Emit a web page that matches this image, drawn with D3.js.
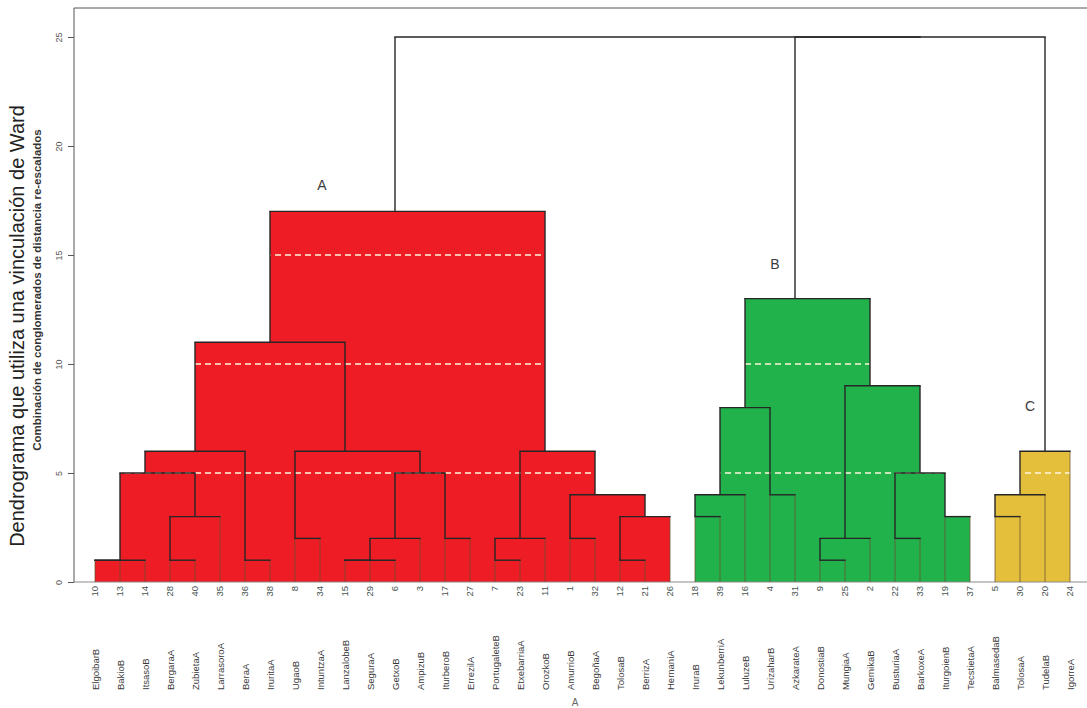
<!DOCTYPE html>
<html>
<head>
<meta charset="utf-8">
<script src="https://cdn.jsdelivr.net/npm/d3@7"></script>
<style>
  html, body { margin: 0; padding: 0; background: #fff; }
  svg { display: block; font-family: "Liberation Sans", Arial, sans-serif; }
</style>
</head>
<body>
<svg id="chart" width="1087" height="708"></svg>
<script>
// Case numbers in dendrogram leaf order (left to right)
const caseNumbers = [10, 13, 14, 28, 40, 35, 36, 38, 8, 34, 15, 29, 6, 3, 17, 27, 7, 23, 11, 1, 32, 12, 21, 26,
                     18, 39, 16, 4, 31, 9, 25, 2, 22, 33, 19, 37,
                     5, 30, 20, 24];

// Case labels, same order
const caseNames = ["ElgoibarB", "BakioB", "ItsasoB", "BergaraA", "ZubietaA", "LarrasoroA", "BeraA", "IruritaA",
                   "UgaoB", "IntuntzaA", "LanzalobeB", "SeguraA", "GetxoB", "AmpizuB", "IturberoB", "ErrezilA",
                   "PortugaleteB", "EtxebarriaA", "OrozkoB", "AmurrioB", "BegoñaA", "TolosaB", "BerrizA", "HernaniA",
                   "IruraB", "LekunberriA", "LuluzeB", "UrizaharB", "AzkarateA", "DonostiaB", "MungiaA", "GernikaB",
                   "BusturiaA", "BarkoxeA", "IturgoienB", "TecstietaA",
                   "BalmasedaB", "TolosaA", "TudelaB", "IgorreA"];

// Agglomeration schedule: [id, left, right, rescaled distance]
// numbers refer to case numbers, strings to earlier merges
const merges = [
  ["a1", 10, 13, 1], ["a2", "a1", 14, 1], ["a3", 28, 40, 1], ["a4", "a3", 35, 3],
  ["a5", "a2", "a4", 5], ["a6", 36, 38, 1], ["a7", "a5", "a6", 6], ["a8", 8, 34, 2],
  ["a9", 15, 29, 1], ["a10", "a9", 6, 1], ["a11", "a10", 3, 2], ["a12", 17, 27, 2],
  ["a13", "a11", "a12", 5], ["a14", "a8", "a13", 6], ["a15", "a7", "a14", 11],
  ["a16", 7, 23, 1], ["a17", "a16", 11, 2], ["a18", 1, 32, 2], ["a19", 12, 21, 1],
  ["a20", "a19", 26, 3], ["a21", "a18", "a20", 4], ["a22", "a17", "a21", 6],
  ["A", "a15", "a22", 17],
  ["b1", 18, 39, 3], ["b2", "b1", 16, 4], ["b3", 4, 31, 4], ["b4", "b2", "b3", 8],
  ["b5", 9, 25, 1], ["b6", "b5", 2, 2], ["b7", 22, 33, 2], ["b8", 19, 37, 3],
  ["b9", "b7", "b8", 5], ["b10", "b6", "b9", 9], ["B", "b4", "b10", 13],
  ["c1", 5, 30, 3], ["c2", "c1", 20, 4], ["C", "c2", 24, 6],
  ["BC", "B", "C", 25], ["ALL", "A", "BC", 25]
];

// Cluster groups and their fills
const clusterIds = ["A", "B", "C"];
const clusterColors = ["#ee1c25", "#22b24c", "#e4bf3b"];

// Axis ticks
const yTicks = [0, 5, 10, 15, 20, 25];
const gridValues = [5, 10, 15, 20];

const svg = d3.select("#chart");
const W = 1087;

const x = d3.scaleLinear().domain([0, caseNumbers.length - 1]).range([95, 1070]);
const y = d3.scaleLinear().domain([0, 26.33]).range([582, 8]);

// Build node table
const nodes = new Map();
caseNumbers.forEach((c, i) => nodes.set(c, { id: c, idx: i, h: 0, leaf: true, children: [] }));
merges.forEach(([id, l, r, h]) => {
  const L = nodes.get(l), R = nodes.get(r);
  nodes.set(id, { id, idx: Math.floor((L.idx + R.idx) / 2), h, leaf: false, children: [L, R] });
});

// Assign cluster colours to every merge below each cluster top
function paint(node, color) {
  if (node.leaf) return;
  node.color = color;
  node.children.forEach(ch => paint(ch, color));
}
clusterIds.forEach((id, k) => paint(nodes.get(id), clusterColors[k]));

const internal = merges.map(m => nodes.get(m[0]));
const filled = internal.filter(n => n.color);

// Filled blocks under each clustered merge
const rectAttrs = sel => sel
  .attr("x", n => x(n.children[0].idx))
  .attr("width", n => x(n.children[1].idx) - x(n.children[0].idx))
  .attr("y", n => y(n.h))
  .attr("height", n => y(0) - y(n.h));

svg.append("g").selectAll("rect").data(filled).join("rect")
  .call(rectAttrs)
  .attr("fill", n => n.color);

// Clip so the dashed reference lines only show over the blocks
svg.append("clipPath").attr("id", "blocks")
  .selectAll("rect").data(filled).join("rect").call(rectAttrs);

svg.append("g").attr("clip-path", "url(#blocks)")
  .selectAll("line").data(gridValues).join("line")
  .attr("x1", 75).attr("x2", W)
  .attr("y1", d => y(d)).attr("y2", d => y(d))
  .attr("stroke", "#fff6dc").attr("stroke-width", 1.4)
  .attr("stroke-dasharray", "6,4");

// Baseline and frame
svg.append("line").attr("x1", 74).attr("x2", W).attr("y1", y(0)).attr("y2", y(0))
  .attr("stroke", "#8a8a8a").attr("stroke-width", 1);
svg.append("line").attr("x1", 74).attr("x2", W).attr("y1", 8).attr("y2", 8)
  .attr("stroke", "#555").attr("stroke-width", 1);

// Dendrogram links
const linkG = svg.append("g").attr("fill", "none");
internal.forEach(n => {
  n.children.forEach(ch => {
    linkG.append("line")
      .attr("x1", x(ch.idx)).attr("x2", x(ch.idx))
      .attr("y1", y(ch.h)).attr("y2", y(n.h))
      .attr("stroke", ch.leaf ? "#6a5230" : "#262626")
      .attr("stroke-opacity", ch.leaf ? 0.75 : 1)
      .attr("stroke-width", ch.leaf ? 1 : 1.4);
  });
});
internal.forEach(n => {
  const [L, R] = n.children;
  linkG.append("line")
    .attr("x1", x(L.idx) - 0.7).attr("x2", x(R.idx) + 0.7)
    .attr("y1", y(n.h)).attr("y2", y(n.h))
    .attr("stroke", "#262626").attr("stroke-width", 1.4);
});

// Left axis
const axis = svg.append("g").attr("transform", "translate(74,0)")
  .call(d3.axisLeft(y).tickValues(yTicks).tickSize(6).tickSizeOuter(0));
axis.select(".domain").attr("stroke", "#555").attr("d", `M0,8V${y(0)}`);
axis.selectAll(".tick line").attr("stroke", "#555");
axis.selectAll(".tick text")
  .attr("x", null).attr("dy", null)
  .attr("transform", "translate(-12,0) rotate(-90)")
  .attr("text-anchor", "middle")
  .attr("font-size", 9).attr("fill", "#555");

// Leaf numbers and names
const leafG = svg.append("g");
caseNumbers.forEach((c, i) => {
  leafG.append("text")
    .attr("transform", `translate(${x(i) + 3},586) rotate(-90)`)
    .attr("text-anchor", "end")
    .attr("font-size", 9.5).attr("fill", "#45524e")
    .text(c);
  leafG.append("text")
    .attr("transform", `translate(${x(i) + 3.5},690) rotate(-90)`)
    .attr("text-anchor", "start")
    .attr("font-size", 9.5).attr("fill", "#3a3a3a")
    .text(caseNames[i]);
});

// Cluster letters
const letterOffsets = [[-73, -21], [-20, -30], [-15, -40]];
clusterIds.forEach((id, k) => {
  const n = nodes.get(id);
  svg.append("text")
    .attr("x", x(n.idx) + letterOffsets[k][0])
    .attr("y", y(n.h) + letterOffsets[k][1])
    .attr("text-anchor", "middle")
    .attr("font-size", 14).attr("fill", "#3c3c3c")
    .text(id);
});

// Axis caption under the leaf labels
svg.append("text").attr("x", 575).attr("y", 706)
  .attr("text-anchor", "middle").attr("font-size", 10).attr("fill", "#666").text("A");

// Titles
svg.append("text")
  .attr("transform", "translate(24,326) rotate(-90)")
  .attr("text-anchor", "middle")
  .attr("font-size", 20).attr("fill", "#222")
  .text("Dendrograma que utiliza una vinculación de Ward");
svg.append("text")
  .attr("transform", "translate(41,290) rotate(-90)")
  .attr("text-anchor", "middle")
  .attr("font-size", 11.5).attr("font-weight", "bold").attr("fill", "#333")
  .text("Combinación de conglomerados de distancia re-escalados");
</script>
</body>
</html>
